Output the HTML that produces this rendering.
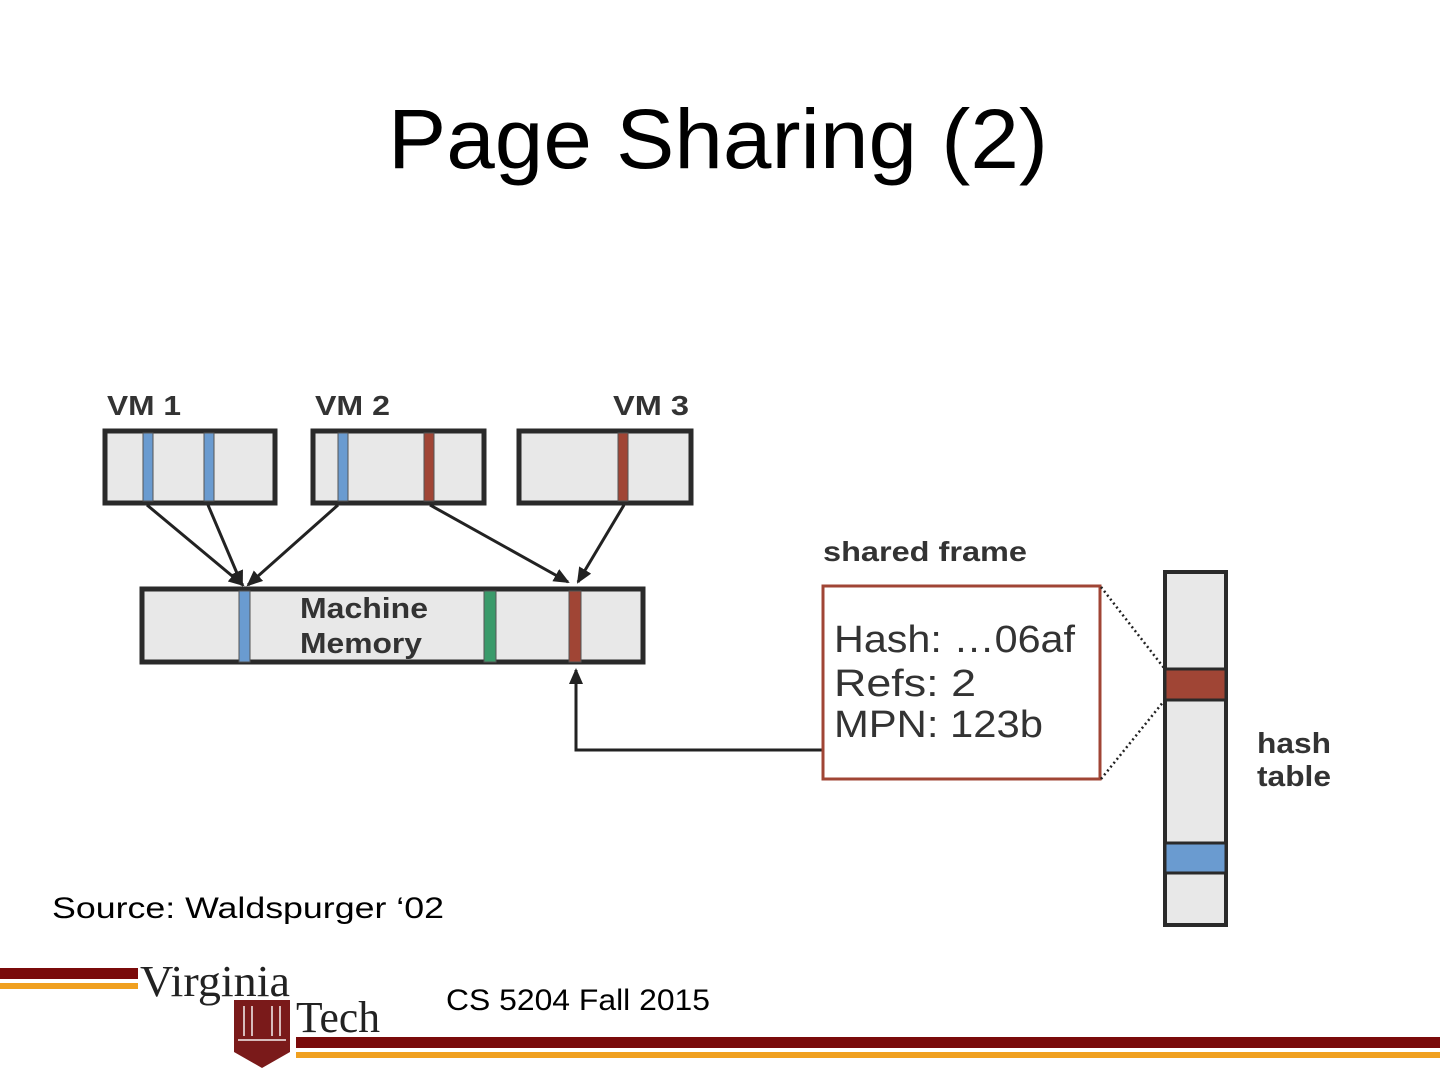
<!DOCTYPE html>
<html><head><meta charset="utf-8"><style>
html,body{margin:0;padding:0;background:#fff;}
body{width:1440px;height:1080px;overflow:hidden;position:relative;}
svg{position:absolute;left:0;top:0;}
</style></head><body>
<svg width="1440" height="1080" viewBox="0 0 1440 1080" xmlns="http://www.w3.org/2000/svg" font-family="Liberation Sans, Arial, sans-serif" xml:space="preserve">
<defs>
<marker id="ah2" markerWidth="16" markerHeight="14" refX="14" refY="7" orient="auto" markerUnits="userSpaceOnUse" viewBox="0 0 16 14">
<path d="M0,0 L16,7 L0,14 z" fill="#222"/></marker>
</defs>
<text x="388" y="168" font-size="84" fill="#000" textLength="660" lengthAdjust="spacingAndGlyphs">Page Sharing (2)</text>

<g font-weight="bold" font-size="28" fill="#333">
<text x="107" y="415" textLength="74" lengthAdjust="spacingAndGlyphs">VM 1</text>
<text x="315" y="415" textLength="75" lengthAdjust="spacingAndGlyphs">VM 2</text>
<text x="613" y="415" textLength="76" lengthAdjust="spacingAndGlyphs">VM 3</text>
</g>
<g stroke="#2a2a2a" stroke-width="5" fill="#e8e8e8">
<rect x="105" y="431" width="170" height="72"/>
<rect x="313" y="431" width="171" height="72"/>
<rect x="519" y="431" width="172" height="72"/>
<rect x="142" y="589" width="501" height="73"/>
</g>
<g stroke="#555" stroke-width="1">
<rect x="143" y="433" width="10" height="68" fill="#6a9bd0"/>
<rect x="204" y="433" width="10" height="68" fill="#6a9bd0"/>
<rect x="338" y="433" width="10" height="68" fill="#6a9bd0"/>
<rect x="424" y="433" width="10" height="68" fill="#a04535"/>
<rect x="618" y="433" width="10" height="68" fill="#a04535"/>
<rect x="239" y="591" width="11" height="71" fill="#6a9bd0"/>
<rect x="484" y="591" width="12" height="71" fill="#3a9a6a"/>
<rect x="569" y="591" width="12" height="71" fill="#a04535"/>
</g>
<g font-weight="bold" font-size="29" fill="#333">
<text x="300" y="618" textLength="128" lengthAdjust="spacingAndGlyphs">Machine</text>
<text x="300" y="653" textLength="122" lengthAdjust="spacingAndGlyphs">Memory</text>
</g>
<g stroke="#222" stroke-width="3" marker-end="url(#ah2)">
<line x1="147" y1="505" x2="243" y2="585"/>
<line x1="208" y1="505" x2="242" y2="585"/>
<line x1="338" y1="505" x2="248" y2="585"/>
<line x1="430" y1="505" x2="568" y2="582"/>
<line x1="624" y1="505" x2="578" y2="582"/>
</g>
<polyline points="822,750 576,750 576,670" fill="none" stroke="#222" stroke-width="3" marker-end="url(#ah2)"/>

<text x="823" y="561" font-weight="bold" font-size="28" fill="#333" textLength="204" lengthAdjust="spacingAndGlyphs">shared frame</text>
<rect x="823" y="586" width="277" height="193" fill="#fff" stroke="#a04535" stroke-width="3"/>
<g font-size="38" fill="#333">
<text x="834" y="652" textLength="241" lengthAdjust="spacingAndGlyphs">Hash: …06af</text>
<text x="834" y="696" textLength="142" lengthAdjust="spacingAndGlyphs">Refs:  2</text>
<text x="834" y="737" textLength="209" lengthAdjust="spacingAndGlyphs">MPN:  123b</text>
</g>
<g stroke="#222" stroke-width="2.5" stroke-dasharray="2,3">
<line x1="1101" y1="587" x2="1164" y2="668"/>
<line x1="1101" y1="779" x2="1164" y2="701"/>
</g>
<rect x="1165" y="572" width="61" height="353" fill="#e8e8e8" stroke="#2a2a2a" stroke-width="4"/>
<rect x="1165" y="669" width="61" height="31" fill="#a04535" stroke="#2a2a2a" stroke-width="3"/>
<rect x="1165" y="843" width="61" height="30" fill="#6a9bd0" stroke="#2a2a2a" stroke-width="3"/>
<g font-weight="bold" font-size="29" fill="#333">
<text x="1257" y="753" textLength="74" lengthAdjust="spacingAndGlyphs">hash</text>
<text x="1257" y="786" textLength="74" lengthAdjust="spacingAndGlyphs">table</text>
</g>

<text x="52" y="918" font-size="30" fill="#000" textLength="392" lengthAdjust="spacingAndGlyphs">Source: Waldspurger ‘02</text>

<rect x="0" y="968" width="138" height="11" fill="#7a0a0a"/>
<rect x="0" y="983" width="138" height="6" fill="#f0a020"/>
<rect x="296" y="1037" width="1144" height="11" fill="#7a0a0a"/>
<rect x="296" y="1052" width="1144" height="6" fill="#f0a020"/>
<text x="140" y="996" font-family="Liberation Serif, serif" font-size="44" fill="#222" textLength="150" lengthAdjust="spacingAndGlyphs">Virginia</text>
<path d="M234,1000 L290,1000 L290,1052 L262,1068 L234,1052 z" fill="#7a1a1a"/>
<g stroke="#fff" stroke-width="2" opacity="0.7">
<line x1="244" y1="1006" x2="244" y2="1036"/><line x1="252" y1="1006" x2="252" y2="1036"/>
<line x1="272" y1="1006" x2="272" y2="1036"/><line x1="280" y1="1006" x2="280" y2="1036"/>
<line x1="238" y1="1040" x2="286" y2="1040"/>
</g>
<text x="296" y="1032" font-family="Liberation Serif, serif" font-size="44" fill="#222" textLength="84" lengthAdjust="spacingAndGlyphs">Tech</text>
<text x="446" y="1010" font-size="30" fill="#000" textLength="264" lengthAdjust="spacingAndGlyphs">CS 5204 Fall 2015</text>
</svg>
</body></html>
